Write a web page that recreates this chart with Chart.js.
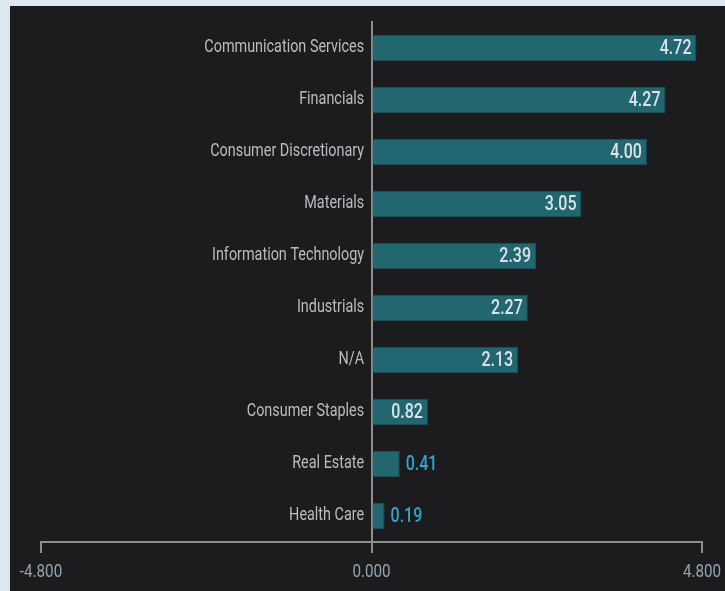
<!DOCTYPE html>
<html>
<head>
<meta charset="utf-8">
<script src="https://cdn.jsdelivr.net/npm/chart.js@4.4.1/dist/chart.umd.min.js"></script>
<style>
  html, body { margin: 0; padding: 0; background: #dce8ef; }
  body { width: 725px; height: 591px; position: relative; overflow: hidden; }
  #panel { position: absolute; left: 10px; top: 6px; width: 715px; height: 585px; background: #1c1c1e; }
  #sectorChart { display: block; }
</style>
</head>
<body>
<div id="panel"><canvas id="sectorChart" width="715" height="585"></canvas></div>
<script>
const sectors = [
  "Communication Services", "Financials", "Consumer Discretionary", "Materials",
  "Information Technology", "Industrials", "N/A", "Consumer Staples",
  "Real Estate", "Health Care"
];
const returns = [4.72, 4.27, 4.00, 3.05, 2.39, 2.27, 2.13, 0.82, 0.41, 0.19];
const axisTicks = [-4.8, 0, 4.8];

const FONT = "Roboto, sans-serif";
const NARROW = 0.8; // horizontal squeeze for a condensed look
const AXIS_GREY = "#8e8e8e";

// no condensed face is installed, so squeeze every string drawn on this context
function condense(ctx, k) {
  const fill = ctx.fillText;
  const measure = ctx.measureText;
  ctx.fillText = function (text, x, y) {
    this.save();
    this.translate(x, y);
    this.scale(k, 1);
    fill.call(this, text, 0, 0);
    this.restore();
  };
  ctx.measureText = function (text) {
    const m = measure.call(this, text);
    return { width: m.width * k, actualBoundingBoxAscent: m.actualBoundingBoxAscent,
             actualBoundingBoxDescent: m.actualBoundingBoxDescent };
  };
}

// writes the value at the end of every bar, inside when it fits
const barValueLabels = {
  id: "barValueLabels",
  afterDatasetsDraw(chart) {
    const ctx = chart.ctx;
    const meta = chart.getDatasetMeta(0);
    ctx.save();
    ctx.font = "500 20px " + FONT;
    ctx.textBaseline = "middle";
    meta.data.forEach((bar, i) => {
      const text = returns[i].toFixed(2);
      const w = bar.x - bar.base;
      if (w > ctx.measureText(text).width + 12) {
        ctx.fillStyle = "#dae3e8";
        ctx.textAlign = "right";
        ctx.fillText(text, bar.x - 5, bar.y + 1);
      } else {
        ctx.fillStyle = "#2fa5d0";
        ctx.textAlign = "left";
        ctx.fillText(text, bar.x + 6, bar.y + 1);
      }
    });
    ctx.restore();
  }
};

const ctx = document.getElementById("sectorChart").getContext("2d");
condense(ctx, NARROW);

new Chart(ctx, {
  type: "bar",
  data: {
    labels: sectors,
    datasets: [{
      data: returns,
      backgroundColor: "#22666f",
      borderColor: "#1a525a",
      borderWidth: 1,
      borderSkipped: "start",
      categoryPercentage: 1,
      barPercentage: 0.51
    }]
  },
  options: {
    indexAxis: "y",
    responsive: false,
    animation: false,
    layout: { padding: { left: 31, right: 23, top: 16, bottom: 0 } },
    plugins: { legend: { display: false }, tooltip: { enabled: false } },
    scales: {
      x: {
        min: axisTicks[0],
        max: axisTicks[axisTicks.length - 1],
        afterBuildTicks(scale) {
          scale.ticks = axisTicks.map(v => ({ value: v }));
        },
        afterFit(scale) {
          // end labels may hang past the plot edges
          scale.paddingLeft = 0;
          scale.paddingRight = 0;
        },
        grid: {
          drawOnChartArea: false,
          drawTicks: true,
          tickLength: 11,
          color: AXIS_GREY,
          lineWidth: 2
        },
        border: { display: true, color: AXIS_GREY, width: 2 },
        ticks: {
          padding: 10,
          color: "#93a3b3",
          font: { family: FONT, size: 19, lineHeight: 0.95 },
          maxRotation: 0,
          callback: v => v.toFixed(3)
        }
      },
      y: {
        position: { x: 0 },
        grid: { display: false, drawTicks: false },
        border: { display: true, color: AXIS_GREY, width: 2 },
        ticks: {
          color: "#b9bdc1",
          font: { family: FONT, size: 18 },
          callback(v) { return this.getLabelForValue(v) + "\u2002"; }
        }
      }
    }
  },
  plugins: [barValueLabels]
});
</script>
</body>
</html>
